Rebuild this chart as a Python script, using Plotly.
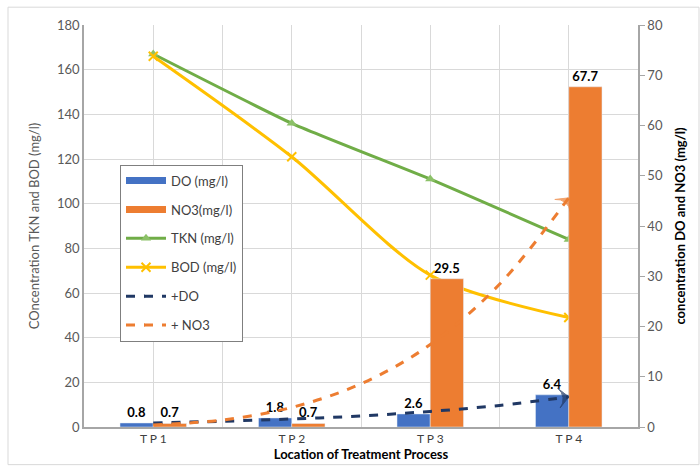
import plotly.graph_objects as go

# ---- data ----
categories = ["T P 1", "T P 2", "T P 3", "T P 4"]
cat_pos = [1, 2, 3, 4]
do_vals = [0.8, 1.8, 2.6, 6.4]
no3_vals = [0.7, 0.7, 29.5, 67.7]
tkn_vals = [167, 136, 111, 84]
bod_vals = [166, 121, 68, 49]
# trend curves (right axis)
trend_x = [1, 1.5, 2, 2.5, 3, 3.5, 4]
do_trend = [0.8, 1.15, 1.6, 2.2, 3.1, 4.3, 6.0]
no3_trend = [0.4, 1.4, 3.9, 8.6, 16.4, 28.4, 45.6]

FONT = "Lato, 'Open Sans', sans-serif"
BLUE = "#4472C4"
ORANGE = "#ED7D31"
GREEN = "#70AD47"
YELLOW = "#FFC000"
NAVY = "#203864"

fig = go.Figure()

bw = 0.24
label_font = dict(family=FONT, size=13, color="#000000", weight="bold")
fig.add_trace(go.Bar(
    x=cat_pos, y=do_vals, yaxis="y2", name="DO (mg/l)", legendgroup="a",
    showlegend=False, marker_color=BLUE, width=bw, offset=-bw,
    text=[f"{v:.1f}" for v in do_vals], textposition="outside",
    textfont=label_font, cliponaxis=False,
))
fig.add_trace(go.Bar(
    x=cat_pos, y=no3_vals, yaxis="y2", name="NO3(mg/l)", legendgroup="b",
    showlegend=False, marker_color=ORANGE, width=bw, offset=0,
    text=[f"{v:.1f}" for v in no3_vals], textposition="outside",
    textfont=label_font, cliponaxis=False,
))
# legend swatches for the bars (wide flat rectangles like the original)
fig.add_trace(go.Scatter(x=[None], y=[None], yaxis="y2", mode="lines", name="DO (mg/l)",
                         legendgroup="a", line=dict(color=BLUE, width=7)))
fig.add_trace(go.Scatter(x=[None], y=[None], yaxis="y2", mode="lines", name="NO3(mg/l)",
                         legendgroup="b", line=dict(color=ORANGE, width=7)))
fig.add_trace(go.Scatter(
    x=cat_pos, y=tkn_vals, name="TKN (mg/l)", legendgroup="c",
    mode="lines+markers", line=dict(color=GREEN, width=3, shape="spline", smoothing=0.5),
    marker=dict(symbol="triangle-up", size=9, color="#8CC168"),
))
fig.add_trace(go.Scatter(
    x=cat_pos, y=bod_vals, name="BOD (mg/l)", legendgroup="d",
    mode="lines+markers", line=dict(color=YELLOW, width=3, shape="spline", smoothing=0.8),
    marker=dict(symbol="x-thin", size=9, color=YELLOW, line=dict(color=YELLOW, width=2)),
))
n = len(trend_x)
for ys, nm, col, grp in [(do_trend, "+DO", NAVY, "e"), (no3_trend, "+ NO3", ORANGE, "f")]:
    fig.add_trace(go.Scatter(
        x=trend_x, y=ys, yaxis="y2", name=nm, legendgroup=grp,
        mode="lines+markers", line=dict(color=col, width=3, dash="dash", shape="spline"),
        marker=dict(symbol="arrow-wide", size=[0] * (n - 1) + [14], angleref="previous",
                    color=col, line=dict(color=col, width=1)),
    ))

W, H = 700, 471
L, R, T, B = 84, 62, 25, 40
pw, ph = W - L - R, H - T - B

def px(x):
    return (x - L) / pw

def py(y):
    return (H - B - y) / ph

fig.update_layout(
    width=W, height=H,
    margin=dict(l=L, r=R, t=T, b=B),
    paper_bgcolor="white", plot_bgcolor="white",
    font=dict(family=FONT, size=13, color="#595959"),
    barmode="overlay",
    showlegend=True,
    legend=dict(
        x=px(120), y=py(166), xanchor="left", yanchor="top",
        bgcolor="white", bordercolor="#7F7F7F", borderwidth=1,
        font=dict(family=FONT, size=13, color="#404040"),
        tracegroupgap=9, itemwidth=40,
    ),
    xaxis=dict(
        range=[0.5, 4.5], tickvals=cat_pos, ticktext=categories,
        showgrid=True, gridcolor="#D9D9D9", gridwidth=1,
        minor=dict(tick0=0.5, dtick=1, showgrid=True, gridcolor="#D9D9D9"),
        showline=True, linecolor="#A6A6A6", linewidth=1.5,
        zeroline=False, ticks="",
        tickfont=dict(family=FONT, size=12, color="#404040"),
        title=dict(text="<b>Location of Treatment Process</b>", standoff=4,
                   font=dict(family=FONT, size=13, color="#000000")),
    ),
    yaxis=dict(
        range=[0, 180], dtick=20,
        showgrid=True, gridcolor="#D9D9D9", gridwidth=1,
        showline=True, linecolor="#A6A6A6", linewidth=1.5,
        zeroline=False, ticks="",
        tickfont=dict(family=FONT, size=13, color="#595959"),
        title=dict(text="COncentration TKN and BOD (mg/l)", standoff=14,
                   font=dict(family=FONT, size=13, color="#595959")),
    ),
    yaxis2=dict(
        range=[0, 80], dtick=10, overlaying="y", side="right",
        showgrid=False, showline=True, linecolor="#A6A6A6", linewidth=1.5,
        zeroline=False, ticks="outside", ticklen=5, tickcolor="#A6A6A6",
        tickfont=dict(family=FONT, size=13, color="#595959"),
        title=dict(text="<b>concentration DO and NO3 (mg/l)</b>", standoff=14,
                   font=dict(family=FONT, size=13, color="#000000")),
    ),
    shapes=[dict(type="rect", xref="paper", yref="paper",
                 x0=px(8), x1=px(699), y0=py(469), y1=py(7),
                 line=dict(color="#D9D9D9", width=1), layer="below")],
)

fig.write_html("out.html")
